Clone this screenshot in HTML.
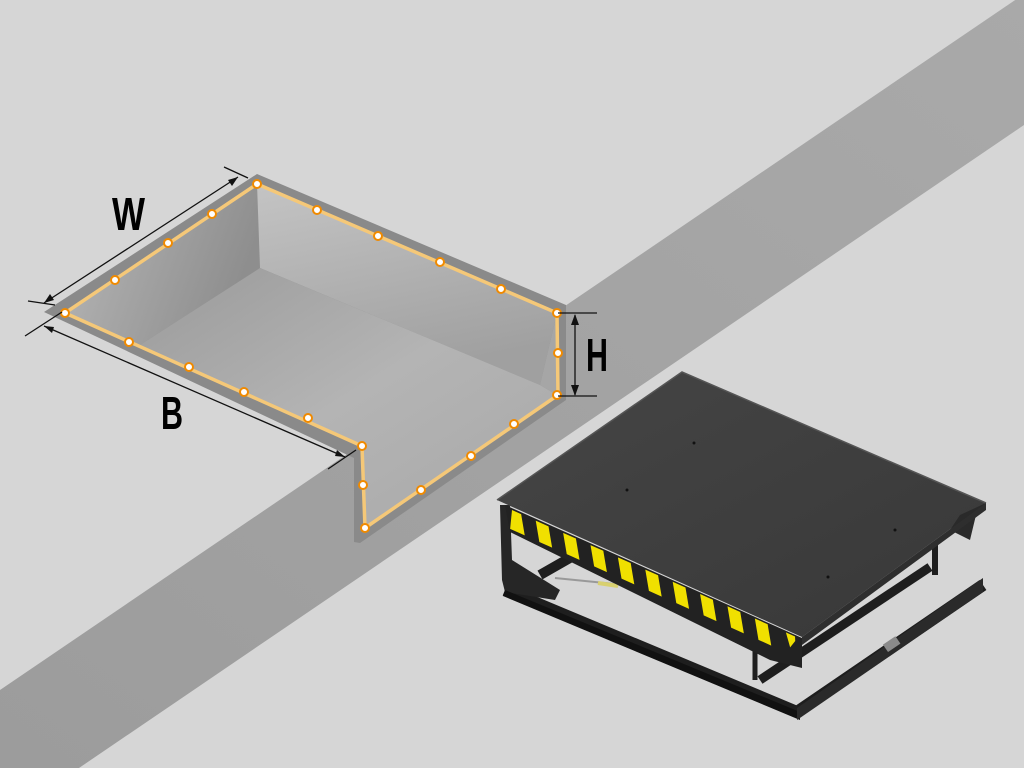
<!DOCTYPE html>
<html><head><meta charset="utf-8"><style>html,body{margin:0;padding:0;background:#d6d6d6}svg{display:block}</style></head>
<body>
<svg width="1024" height="768" viewBox="0 0 1024 768" xmlns="http://www.w3.org/2000/svg">
<defs>
<linearGradient id="band" x1="1" y1="0" x2="0" y2="1"><stop offset="0" stop-color="#a9a9a9"/><stop offset="1" stop-color="#9c9c9c"/></linearGradient>
<linearGradient id="lw" x1="0" y1="0" x2="1" y2="0.3"><stop offset="0" stop-color="#b8b8b8"/><stop offset="1" stop-color="#8e8e8e"/></linearGradient>
<linearGradient id="bw" x1="0" y1="0" x2="0.3" y2="1"><stop offset="0" stop-color="#c4c4c4"/><stop offset="1" stop-color="#a0a0a0"/></linearGradient>
<linearGradient id="fl" x1="0" y1="0" x2="1" y2="1"><stop offset="0" stop-color="#9a9a9a"/><stop offset="0.5" stop-color="#b4b4b4"/><stop offset="1" stop-color="#a8a8a8"/></linearGradient>
<linearGradient id="deck" x1="0" y1="0" x2="1" y2="1"><stop offset="0" stop-color="#454545"/><stop offset="1" stop-color="#383838"/></linearGradient>
</defs>
<rect width="1024" height="768" fill="#d6d6d6"/>
<polygon points="1024,-6 1024,125 79,768 0,768 0,690" fill="url(#band)"/>
<polygon points="44,312 257,174 566,305 566,400 360,543 354,542 354,458" fill="#8a8a8a"/>
<polygon points="65,313 257,184 260,268 140,345" fill="url(#lw)"/>
<polygon points="257,184 557,313 540,385 260,268" fill="url(#bw)"/>
<polygon points="557,313 557,395 540,385" fill="#a6a6a6"/>
<polygon points="140,345 260,268 540,385 557,395 365,528 362,446" fill="url(#fl)"/>
<polyline points="65,313 257,184 557,313 558,395 365,528 362,446 65,313" fill="none" stroke="#f5c878" stroke-width="3.5" stroke-linejoin="round"/>
<g fill="#fff" stroke="#f08a00" stroke-width="2">
<circle cx="65" cy="313" r="4"/><circle cx="115" cy="280" r="4"/><circle cx="168" cy="243" r="4"/><circle cx="212" cy="214" r="4"/><circle cx="257" cy="184" r="4"/>
<circle cx="317" cy="210" r="4"/><circle cx="378" cy="236" r="4"/><circle cx="440" cy="262" r="4"/><circle cx="501" cy="289" r="4"/><circle cx="557" cy="313" r="4"/>
<circle cx="558" cy="353" r="4"/><circle cx="557" cy="395" r="4"/>
<circle cx="514" cy="424" r="4"/><circle cx="471" cy="456" r="4"/><circle cx="421" cy="490" r="4"/><circle cx="365" cy="528" r="4"/>
<circle cx="363" cy="485" r="4"/><circle cx="362" cy="446" r="4"/>
<circle cx="308" cy="418" r="4"/><circle cx="244" cy="392" r="4"/><circle cx="189" cy="367" r="4"/><circle cx="129" cy="342" r="4"/>
</g>
<g stroke="#111" stroke-width="1.3" fill="none">
<line x1="44" y1="303" x2="238" y2="177"/>
<line x1="28" y1="301" x2="55" y2="305"/><line x1="224" y1="167" x2="248" y2="178"/>
<line x1="44" y1="326" x2="345" y2="457"/>
<line x1="25" y1="336" x2="62" y2="312"/><line x1="328" y1="469" x2="356" y2="450"/>
<line x1="575" y1="315" x2="575" y2="395"/>
<line x1="558" y1="313" x2="597" y2="313"/><line x1="558" y1="396" x2="597" y2="396"/>
</g>
<g fill="#111">
<polygon points="238,177 228,180 232,186"/>
<polygon points="44,303 54,300 50,294"/>
<polygon points="44,326 52,333 54,327"/>
<polygon points="345,457 337,450 335,456"/>
<polygon points="575,314 571,325 579,325"/>
<polygon points="575,396 571,385 579,385"/>
</g>
<g font-family="Liberation Sans, sans-serif" font-weight="bold" fill="#000" font-size="46">
<text x="112" y="230" textLength="33" lengthAdjust="spacingAndGlyphs">W</text>
<text x="161" y="429" textLength="22" lengthAdjust="spacingAndGlyphs">B</text>
<text x="586" y="371" textLength="22" lengthAdjust="spacingAndGlyphs">H</text>
</g>
<g stroke="#1e1e1e" stroke-linejoin="round" fill="none">
<polyline points="505,590 797,712 983,585" stroke-width="12"/>
<line x1="540" y1="575" x2="575" y2="555" stroke-width="10"/>
<line x1="760" y1="680" x2="930" y2="567" stroke-width="9"/>
<line x1="935" y1="545" x2="935" y2="575" stroke-width="6"/>
<line x1="755" y1="650" x2="755" y2="680" stroke-width="5"/>
</g>
<polygon points="500,505 510,505 512,560 560,590 555,600 505,592 502,580" fill="#262626"/>
<polygon points="505,590 800,712 800,720 503,596" fill="#111"/>
<polygon points="797,708 983,578 983,592 797,720" fill="#2a2a2a"/>
<rect x="884" y="640" width="15" height="9" fill="#8a8a8a" transform="rotate(-34 891 644)"/>
<line x1="555" y1="578" x2="625" y2="585" stroke="#999" stroke-width="2"/>
<line x1="598" y1="583" x2="618" y2="586" stroke="#d8d070" stroke-width="4"/>
<polygon points="497,500 682,372 986,503 802,637" fill="url(#deck)"/>
<polyline points="497,500 682,372 986,503" fill="none" stroke="#555" stroke-width="1.5"/>
<polygon points="986,503 976,515 970,540 950,530 960,515" fill="#2a2a2a"/>
<polygon points="505,505 802,638 802,668 770,660 510,532" fill="#222"/>
<polygon points="802,637 986,503 986,510 802,645" fill="#2e2e2e"/>
<g transform="matrix(0.913,0.408,-0.408,0.913,512,510)">
<polygon points="0,0 10,0 22,18 6,18" fill="#f0e000"/>
<polygon points="26,0 40,0 52,18 38,18" fill="#f0e000"/>
<polygon points="56,0 70,0 82,18 68,18" fill="#f0e000"/>
<polygon points="86,0 100,0 112,18 98,18" fill="#f0e000"/>
<polygon points="116,0 130,0 142,18 128,18" fill="#f0e000"/>
<polygon points="146,0 160,0 172,18 158,18" fill="#f0e000"/>
<polygon points="176,0 190,0 202,18 188,18" fill="#f0e000"/>
<polygon points="206,0 220,0 232,18 218,18" fill="#f0e000"/>
<polygon points="236,0 250,0 262,18 248,18" fill="#f0e000"/>
<polygon points="266,0 280,0 292,18 278,18" fill="#f0e000"/>
<polygon points="300,0 310,0 312,4 310,12" fill="#f0e000"/>
</g>
<g fill="#111">
<circle cx="694" cy="443" r="1.5"/><circle cx="627" cy="490" r="1.5"/><circle cx="895" cy="530" r="1.5"/><circle cx="828" cy="577" r="1.5"/>
</g>
</svg>
</body></html>
